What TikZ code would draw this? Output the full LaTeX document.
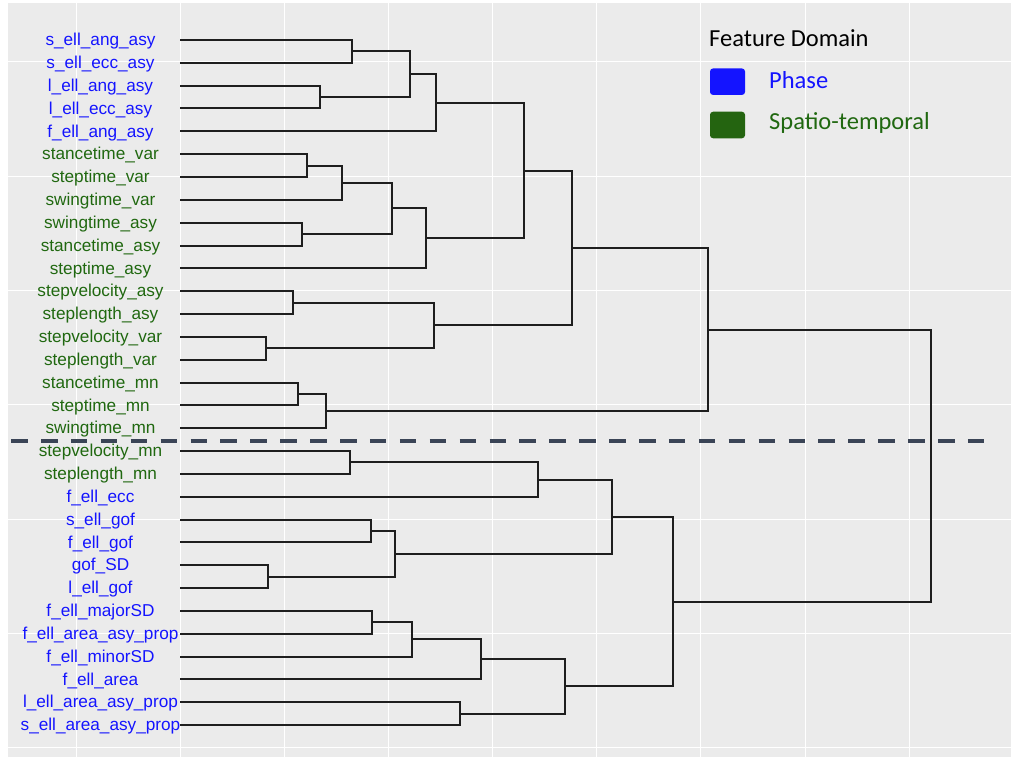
\documentclass[tikz,border=0pt]{standalone}
\usepackage{fontspec}
\setmainfont{Liberation Sans}
\newfontfamily\legendfont{Carlito}
\usetikzlibrary{calc}

\definecolor{panelgrey}{RGB}{235,235,235}
\definecolor{phaseblue}{RGB}{20,20,255}
\definecolor{stgreen}{RGB}{32,104,16}
\definecolor{keygreen}{RGB}{36,100,16}
\definecolor{treeline}{RGB}{30,30,30}
\definecolor{cutcolor}{RGB}{58,68,86}

\tikzset{
  leaflabel/.style={anchor=base, inner sep=0pt, font=\fontsize{17.2}{20}\selectfont},
  phase/.style={leaflabel, text=phaseblue},
  spatio/.style={leaflabel, text=stgreen},
  branch/.style={draw=treeline, line width=2pt},
  gridline/.style={draw=white, line width=1pt},
  cutline/.style={draw=cutcolor, line width=4pt, dash pattern=on 16.5pt off 13.4pt},
  keybox/.style={rounded corners=3pt, minimum width=35pt, minimum height=26.5pt, inner sep=0pt},
  legendtext/.style={anchor=base west, inner sep=0pt, font=\legendfont\fontsize{24.5}{28}\selectfont},
}

% join two subtrees (#3, #4) at height #2; the new branch point is #1
\newcommand\dmerge[4]{%
  \path let \p1=(#3), \p2=(#4) in coordinate (#1) at (#2pt,{(\y1+\y2)/2});
  \draw[branch] (#3) -| (#1) |- (#4);
}

\begin{document}
\begin{tikzpicture}[x=1pt,y=-1pt]
\useasboundingbox (0,0) rectangle (1011,757);
\fill[white] (0,0) rectangle (1011,757);
\fill[panelgrey] (8,3) rectangle (1011,757);

% panel grid
\foreach \k in {0,...,8}
  \draw[gridline] ({76+104.15*\k},3) -- ({76+104.15*\k},757);
\foreach \k in {0,...,6}
  \draw[gridline] (8,{62+114.3*\k}) -- (1011,{62+114.3*\k});

% leaf labels and leaf ends
\foreach \t/\s [count=\i from 0] in {
  s\_ell\_ang\_asy/phase, s\_ell\_ecc\_asy/phase, l\_ell\_ang\_asy/phase,
  l\_ell\_ecc\_asy/phase, f\_ell\_ang\_asy/phase,
  stancetime\_var/spatio, steptime\_var/spatio, swingtime\_var/spatio,
  swingtime\_asy/spatio, stancetime\_asy/spatio, steptime\_asy/spatio,
  stepvelocity\_asy/spatio, steplength\_asy/spatio, stepvelocity\_var/spatio,
  steplength\_var/spatio, stancetime\_mn/spatio, steptime\_mn/spatio,
  swingtime\_mn/spatio, stepvelocity\_mn/spatio, steplength\_mn/spatio,
  f\_ell\_ecc/phase, s\_ell\_gof/phase, f\_ell\_gof/phase, gof\_SD/phase,
  l\_ell\_gof/phase, f\_ell\_majorSD/phase, f\_ell\_area\_asy\_prop/phase,
  f\_ell\_minorSD/phase, f\_ell\_area/phase, l\_ell\_area\_asy\_prop/phase,
  s\_ell\_area\_asy\_prop/phase} {
  \pgfmathsetmacro\yy{40+22.8333*\i}
  \node[\s] (lab\i) at (100.5,\yy+5.8) {\t};
  \coordinate (t\i) at (180,\yy);
}

% upper cluster
\dmerge{m0}{351.7}{t0}{t1}
\dmerge{m2}{320}{t2}{t3}
\dmerge{mA}{409.7}{m0}{m2}
\dmerge{mB}{436.3}{mA}{t4}
\dmerge{m5}{306.7}{t5}{t6}
\dmerge{m7}{342.3}{m5}{t7}
\dmerge{m8}{301.7}{t8}{t9}
\dmerge{mC}{392.3}{m7}{m8}
\dmerge{mD}{425.7}{mC}{t10}
\dmerge{mE}{524.3}{mB}{mD}
\dmerge{m11}{293.3}{t11}{t12}
\dmerge{m13}{265.7}{t13}{t14}
\dmerge{mF}{434.3}{m11}{m13}
\dmerge{mG}{572.3}{mE}{mF}
\dmerge{m15}{297.7}{t15}{t16}
\dmerge{m17}{325.7}{m15}{t17}
\dmerge{mH}{708}{mG}{m17}

% lower cluster
\dmerge{m18}{350}{t18}{t19}
\dmerge{mI}{538}{m18}{t20}
\dmerge{m21}{370.7}{t21}{t22}
\dmerge{m23}{267.7}{t23}{t24}
\dmerge{mJ}{395}{m21}{m23}
\dmerge{mK}{612}{mI}{mJ}
\dmerge{m25}{371.7}{t25}{t26}
\dmerge{m27}{412}{m25}{t27}
\dmerge{m28}{481.3}{m27}{t28}
\dmerge{m29}{460}{t29}{t30}
\dmerge{mL}{565.3}{m28}{m29}
\dmerge{mM}{673}{mK}{mL}

% root
\dmerge{root}{930.7}{mH}{mM}

% cut height
\coordinate (cutL) at (11.1,441.3);
\coordinate (cutR) at (986,441.3);
\draw[cutline] (cutL) -- (cutR);

% legend
\node[legendtext] (legtitle) at (709,46.7) {Feature Domain};
\node[keybox, fill=phaseblue] (keyphase) at (727.5,81.7) {};
\node[keybox, fill=keygreen] (keyspatio) at (727.5,125) {};
\node[legendtext, text=phaseblue] (legphase) at (769,88.3) {Phase};
\node[legendtext, text=stgreen] (legspatio) at (769,129.3) {Spatio-temporal};
\end{tikzpicture}
\end{document}
